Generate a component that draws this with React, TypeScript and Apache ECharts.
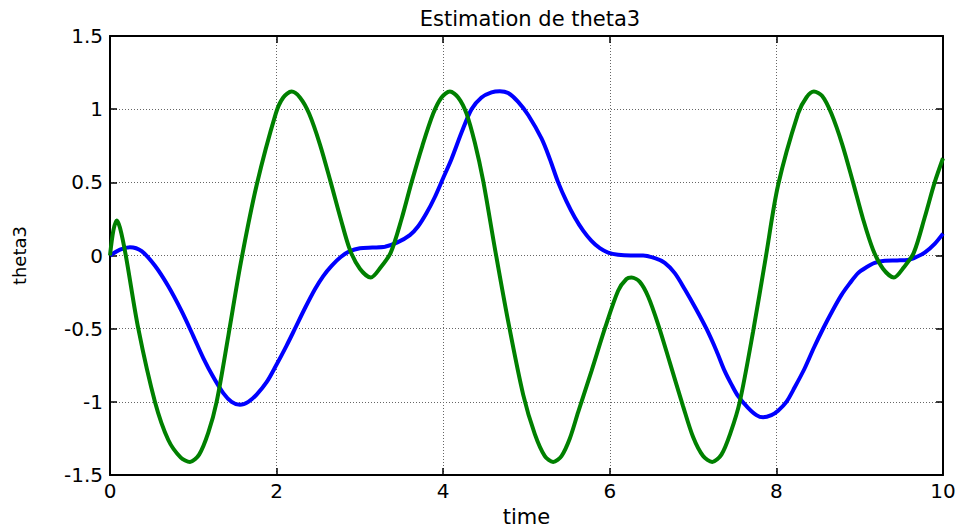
import React, { useEffect, useRef } from "react";
import * as echarts from "echarts";

const chartTitle = "Estimation de theta3";
const xName = "time";
const yName = "theta3";

const blueT = [0, 0.12, 0.24, 0.38, 0.54, 0.7, 0.86, 1.0, 1.12, 1.24, 1.36, 1.46, 1.56, 1.66, 1.76, 1.88, 1.99, 2.12, 2.22, 2.34, 2.46, 2.56, 2.66, 2.77, 2.88, 3.0, 3.15, 3.3, 3.45, 3.6, 3.7, 3.8, 3.9, 4.0, 4.1, 4.22, 4.34, 4.46, 4.58, 4.68, 4.78, 4.9, 5.02, 5.18, 5.28, 5.38, 5.48, 5.58, 5.68, 5.78, 5.88, 5.98, 6.1, 6.25, 6.4, 6.55, 6.66, 6.78, 6.9, 7.03, 7.16, 7.28, 7.38, 7.46, 7.54, 7.66, 7.76, 7.84, 7.94, 8.02, 8.12, 8.22, 8.34, 8.45, 8.56, 8.67, 8.78, 8.88, 8.98, 9.08, 9.18, 9.3, 9.45, 9.58, 9.68, 9.78, 9.9, 10];
const blueV = [0, 0.04, 0.057, 0.03, -0.07, -0.21, -0.38, -0.55, -0.7, -0.83, -0.94, -1.0, -1.02, -1.0, -0.95, -0.865, -0.755, -0.615, -0.5, -0.36, -0.23, -0.14, -0.07, -0.01, 0.03, 0.05, 0.055, 0.06, 0.09, 0.14, 0.2, 0.29, 0.4, 0.53, 0.66, 0.84, 1.0, 1.08, 1.115, 1.123, 1.11, 1.05, 0.96, 0.8, 0.66, 0.5, 0.37, 0.26, 0.17, 0.1, 0.05, 0.02, 0.005, 0, 0, -0.02, -0.05, -0.12, -0.23, -0.36, -0.5, -0.65, -0.79, -0.88, -0.96, -1.04, -1.09, -1.105, -1.09, -1.06, -1.0, -0.9, -0.77, -0.63, -0.5, -0.38, -0.27, -0.19, -0.12, -0.08, -0.05, -0.035, -0.033, -0.03, -0.01, 0.02, 0.08, 0.15];

const greenT = [0, 0.04, 0.08, 0.12, 0.19, 0.34, 0.54, 0.7, 0.85, 0.96, 1.07, 1.18, 1.28, 1.42, 1.57, 1.76, 1.99, 2.08, 2.18, 2.28, 2.39, 2.52, 2.65, 2.77, 2.88, 3.0, 3.13, 3.25, 3.37, 3.5, 3.62, 3.75, 3.88, 3.98, 4.08, 4.18, 4.28, 4.38, 4.48, 4.62, 4.78, 4.96, 5.1, 5.22, 5.32, 5.42, 5.52, 5.62, 5.78, 5.94, 6.1, 6.2, 6.26, 6.36, 6.46, 6.58, 6.72, 6.88, 7.0, 7.12, 7.23, 7.34, 7.45, 7.56, 7.72, 7.87, 8.02, 8.26, 8.36, 8.45, 8.55, 8.66, 8.79, 8.92, 9.04, 9.16, 9.28, 9.41, 9.53, 9.65, 9.78, 9.9, 10];
const greenV = [0, 0.17, 0.24, 0.19, 0, -0.5, -1.0, -1.26, -1.38, -1.41, -1.36, -1.21, -1.0, -0.55, -0.05, 0.48, 0.97, 1.08, 1.12, 1.08, 0.97, 0.76, 0.5, 0.25, 0.04, -0.09, -0.15, -0.08, 0.02, 0.25, 0.5, 0.75, 0.97, 1.08, 1.12, 1.08, 0.97, 0.77, 0.51, 0.05, -0.45, -0.95, -1.22, -1.37, -1.41, -1.37, -1.25, -1.07, -0.79, -0.5, -0.24, -0.16, -0.15, -0.18, -0.28, -0.47, -0.73, -1.03, -1.24, -1.37, -1.41, -1.36, -1.21, -1.0, -0.52, -0.02, 0.48, 0.97, 1.08, 1.12, 1.09, 0.97, 0.76, 0.5, 0.25, 0.04, -0.09, -0.15, -0.08, 0.02, 0.26, 0.5, 0.665];

const FONT = "DejaVu Sans";

export default function App() {
  const ref = useRef<HTMLDivElement>(null);
  useEffect(() => {
    const chart = echarts.init(ref.current as HTMLDivElement, null, { renderer: "svg" });
    const gridLine = { show: true, lineStyle: { color: "#666", type: [1, 2], width: 1 } };
    const axisLine = { show: true, onZero: false, lineStyle: { color: "#000", width: 2 } };
    const axisTick = { show: true, inside: true, length: 7, lineStyle: { color: "#000", width: 1.5 } };
    chart.setOption({
      animation: false,
      backgroundColor: "#fff",
      title: {
        text: chartTitle,
        left: 525,
        textAlign: "center",
        top: 3,
        textStyle: { fontFamily: FONT, fontSize: 21, fontWeight: "normal", color: "#000" },
      },
      grid: { left: 110, right: 17, top: 36, bottom: 50 },
      xAxis: [
        {
          type: "value", min: 0, max: 10, interval: 2, position: "bottom",
          axisLine, axisTick,
          axisLabel: { color: "#000", fontFamily: FONT, fontSize: 20, margin: 6 },
          splitLine: gridLine,
          name: xName, nameLocation: "middle", nameGap: 29,
          nameTextStyle: { color: "#000", fontFamily: FONT, fontSize: 21 },
        },
        {
          type: "value", min: 0, max: 10, interval: 2, position: "top",
          axisLine, axisTick, axisLabel: { show: false }, splitLine: { show: false },
        },
      ],
      yAxis: [
        {
          type: "value", min: -1.5, max: 1.5, interval: 0.5, position: "left",
          axisLine, axisTick,
          axisLabel: { color: "#000", fontFamily: FONT, fontSize: 20, margin: 7 },
          splitLine: gridLine,
          name: yName, nameLocation: "middle", nameGap: 82, nameRotate: 90,
          nameTextStyle: { color: "#000", fontFamily: FONT, fontSize: 18 },
        },
        {
          type: "value", min: -1.5, max: 1.5, interval: 0.5, position: "right",
          axisLine, axisTick, axisLabel: { show: false }, splitLine: { show: false },
        },
      ],
      series: [
        {
          type: "line", xAxisIndex: 0, yAxisIndex: 0, showSymbol: false, smooth: 0.3,
          lineStyle: { color: "#0000ff", width: 4 },
          data: blueT.map((t, i) => [t, blueV[i]]),
        },
        {
          type: "line", xAxisIndex: 0, yAxisIndex: 0, showSymbol: false, smooth: 0.3,
          lineStyle: { color: "#008000", width: 4 },
          data: greenT.map((t, i) => [t, greenV[i]]),
        },
      ],
    });
    return () => chart.dispose();
  }, []);
  return (
    <div
      ref={ref}
      style={{ position: "fixed", left: 0, top: 0, width: 960, height: 532, background: "#fff" }}
    />
  );
}
